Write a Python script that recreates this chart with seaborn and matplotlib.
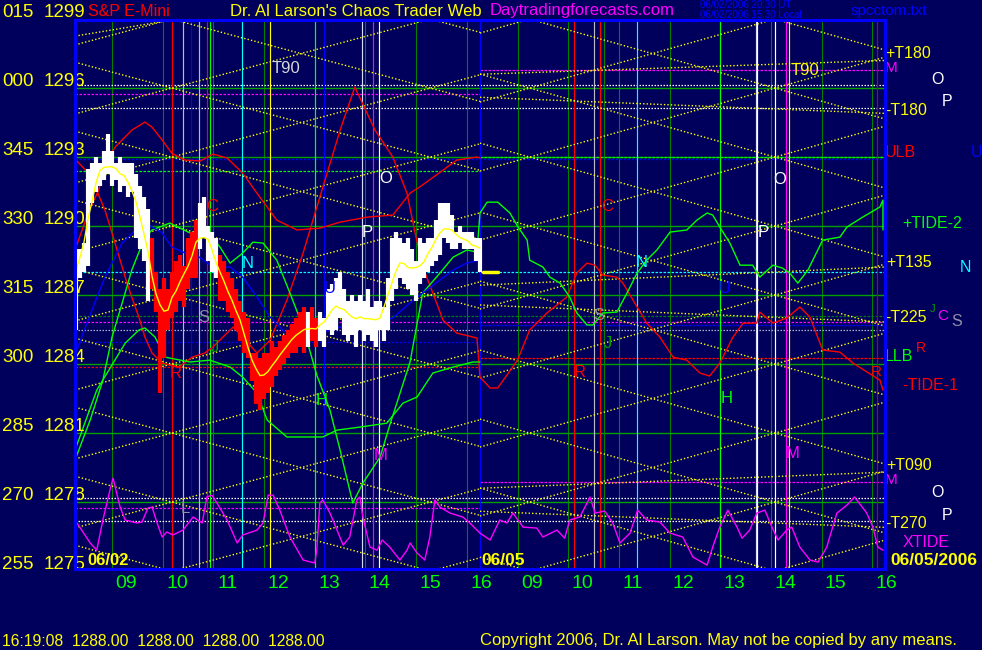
import numpy as np
import pandas as pd
import matplotlib
matplotlib.use("Agg")
import matplotlib.pyplot as plt
import matplotlib.transforms as mtransforms
import seaborn as sns

sns.set_theme(style="dark")
plt.rcParams['font.family'] = ['Liberation Sans', 'DejaVu Sans']

BG = '#00005c'

# ---------------- axis ----------------
x_min, x_max = 8.27, 24.25          # session hours (day 2 = clock + 8)
y_min, y_max = 1275.09, 1298.96
day_bounds = [(8.27, 16.26), (16.26, 24.25)]
hour_ticks = [9, 10, 11, 12, 13, 14, 15, 16, 17, 18, 19, 20, 21, 22, 23, 24]
hour_labels = ["09", "10", "11", "12", "13", "14", "15", "16",
               "09", "10", "11", "12", "13", "14", "15", "16"]
level_prices = [1299, 1296, 1293, 1290, 1287, 1284, 1281, 1278, 1275]
level_codes = ["015", "000", "345", "330", "315", "300", "285", "270", "255"]
green_levels = [1278, 1281, 1284, 1287, 1290, 1293, 1296]

# ---------------- price bars (day 1) ----------------
bar_t0, bar_dt = 8.29, 0.0789
bar_high = [1289.0, 1289.0, 1289.25, 1292.5, 1292.75, 1293.0, 1292.75, 1293.25, 1294.0, 1293.25,
            1292.75, 1293.0, 1292.75, 1292.75, 1292.75, 1292.25, 1291.75, 1291.25, 1290.75, 1289.5,
            1288.0, 1287.25, 1287.75, 1287.25, 1288.0, 1288.5, 1288.75, 1288.25, 1289.5, 1289.75,
            1290.25, 1291.0, 1291.25, 1290.0, 1289.75, 1289.5, 1288.75, 1288.5, 1288.0, 1287.75,
            1287.25, 1286.75, 1286.25, 1286.0, 1284.5, 1284.5, 1284.25, 1284.5, 1284.5, 1285.0,
            1284.75, 1285.0, 1285.25, 1285.5, 1285.75, 1286.0, 1286.25, 1286.5, 1286.25, 1286.5,
            1286.0, 1286.25, 1286.0, 1287.25, 1287.5, 1287.75, 1288.0, 1287.25, 1286.75, 1287.0,
            1286.75, 1287.0, 1286.75, 1287.25, 1286.5, 1286.75, 1286.75, 1286.5, 1287.75, 1289.5,
            1289.75, 1289.5, 1289.25, 1289.5, 1289.0, 1288.5, 1289.5, 1289.25, 1289.5, 1289.5,
            1290.25, 1291.0, 1291.0, 1291.0, 1290.5, 1289.75, 1290.0, 1289.75, 1289.75, 1289.75,
            1289.5, 1289.5]
bar_low = [1285.5, 1287.75, 1288.0, 1288.25, 1291.0, 1291.5, 1291.75, 1292.0, 1292.25, 1291.75,
           1292.0, 1291.5, 1291.75, 1291.25, 1291.5, 1289.5, 1289.0, 1288.5, 1286.75, 1287.25,
           1286.25, 1282.75, 1284.25, 1285.5, 1286.0, 1286.25, 1286.75, 1286.5, 1287.25, 1287.75,
           1287.75, 1289.0, 1289.5, 1288.5, 1288.0, 1287.75, 1286.75, 1286.75, 1286.25, 1286.0,
           1285.5, 1285.0, 1284.5, 1284.25, 1283.25, 1282.25, 1282.0, 1282.5, 1282.75, 1283.0,
           1283.5, 1283.75, 1284.0, 1284.25, 1284.5, 1284.5, 1284.75, 1284.5, 1284.75, 1285.0,
           1284.75, 1285.0, 1284.75, 1285.5, 1285.25, 1285.5, 1286.0, 1285.25, 1285.0, 1285.25,
           1284.75, 1285.5, 1285.0, 1285.25, 1285.0, 1284.75, 1285.5, 1285.0, 1285.5, 1286.75,
           1287.25, 1287.75, 1287.5, 1287.25, 1287.0, 1286.75, 1287.5, 1287.75, 1288.0, 1288.25,
           1288.5, 1288.75, 1289.5, 1289.25, 1289.0, 1289.0, 1289.25, 1289.0, 1289.0, 1289.0,
           1288.5, 1288.0]
bar_kind = ("WWWWWWWWWWWWWWWWWWWRRRRRRRRRRRRWWWWWRRRRRRRRRRRRRRRRRRRRRRWRRWW"
            "WWWWWWWWWWWWWWWWWWWWWWWWWWWWWWWWWWWWWWW")
last_price = 1288.0
last_price_t = (16.32, 16.61)

# ---------------- red curves ----------------
redA_t = [8.27, 8.55, 8.74, 8.86, 9.06, 9.39, 9.65, 9.79, 9.99, 10.18, 10.44, 10.74, 10.99, 11.27,
          11.58, 11.86, 12.25, 12.65, 13.10, 13.50, 14.03, 14.54, 14.88, 15.07, 15.53, 15.80,
          16.20, 16.26]
redA_p = [1288.96, 1290.70, 1291.57, 1292.74, 1293.43, 1294.17, 1294.52, 1294.30, 1293.74, 1293.17,
          1292.87, 1292.83, 1293.13, 1292.96, 1292.30, 1291.43, 1290.26, 1289.83, 1289.91, 1290.17,
          1290.39, 1290.48, 1291.43, 1291.70, 1292.43, 1292.87, 1293.0, 1292.96]
redB_t = [8.29, 8.57, 8.86, 9.06, 9.26, 9.39, 9.53, 9.65, 9.79, 9.99, 10.32, 10.58, 10.83, 10.99,
          11.39, 11.58, 11.86, 12.12, 12.45, 12.77, 13.16, 13.50, 13.79, 14.19, 14.54, 14.82, 14.98,
          15.13, 15.33, 15.53, 15.80, 16.20, 16.26, 16.46, 16.61, 17.0, 17.24, 17.58, 17.97, 18.17,
          18.37, 18.53, 18.68, 18.96, 19.08, 19.36, 19.55, 19.81, 20.07, 20.34, 20.60, 20.79, 20.99,
          21.25, 21.45, 21.72, 21.78, 22.04, 22.31, 22.57, 22.77, 23.02, 23.36, 23.62, 24.15, 24.21]
redB_p = [1292.87, 1292.22, 1290.70, 1289.26, 1287.78, 1286.91, 1286.04, 1285.17, 1284.48, 1284.04,
          1283.87, 1284.30, 1284.48, 1284.74, 1285.61, 1285.17, 1284.48, 1285.04, 1286.78, 1288.83,
          1291.70, 1294.17, 1296.04, 1294.17, 1293.0, 1291.43, 1289.70, 1288.22, 1287.09, 1285.91,
          1285.35, 1285.13, 1283.43, 1282.96, 1282.96, 1284.17, 1285.48, 1286.22, 1286.91, 1287.96,
          1288.39, 1288.30, 1287.87, 1287.78, 1287.52, 1286.48, 1285.78, 1285.17, 1284.30, 1284.17,
          1283.61, 1283.48, 1284.04, 1285.17, 1285.78, 1285.78, 1286.26, 1285.78, 1286.0, 1286.48,
          1286.04, 1284.61, 1284.52, 1284.04, 1283.30, 1282.87]

# ---------------- green curves ----------------
green1_t = [8.27, 8.57, 8.82, 9.0, 9.20, 9.39, 9.65, 9.79, 10.14, 10.54, 10.93, 11.13, 11.33, 11.58,
            11.78, 11.98, 12.25, 12.51, 12.77, 13.04, 13.30, 13.50, 13.75, 13.95, 14.29, 14.48,
            14.88, 15.13, 15.47, 15.73, 16.0, 16.20, 16.26, 16.40, 16.61, 16.85, 17.01, 17.19, 17.24,
            17.50, 17.64, 17.84, 18.03, 18.17, 18.37, 18.49, 18.68, 18.96, 19.16, 19.36, 19.55, 19.75,
            20.01, 20.34, 20.54, 20.74, 20.85, 20.99, 21.19, 21.39, 21.64, 21.78, 22.04, 22.23, 22.37,
            22.53, 22.73, 23.02, 23.36, 23.50, 23.81, 24.15, 24.21, 24.21]
green1_p = [1279.83, 1281.57, 1283.30, 1285.17, 1286.65, 1288.09, 1289.52, 1289.83, 1290.13, 1289.70,
            1289.61, 1289.09, 1288.39, 1288.83, 1289.30, 1289.26, 1288.52, 1287.09, 1285.61, 1283.52,
            1282.0, 1280.26, 1277.96, 1278.83, 1279.96, 1281.35, 1284.09, 1287.09, 1287.96, 1288.65,
            1288.96, 1288.87, 1290.57, 1291.04, 1291.04, 1290.57, 1289.96, 1289.39, 1288.52, 1288.22,
            1287.78, 1287.52, 1286.91, 1286.22, 1285.70, 1285.70, 1286.22, 1286.26, 1287.09, 1287.96,
            1288.52, 1288.96, 1289.74, 1289.83, 1290.26, 1290.57, 1290.48, 1289.96, 1289.26, 1288.30,
            1288.30, 1287.78, 1288.30, 1288.17, 1287.96, 1287.52, 1288.09, 1289.39, 1289.52, 1289.96,
            1290.39, 1290.83, 1291.13, 1289.83]
green2_t = [8.27, 8.70, 9.26, 9.53, 9.65, 9.85, 10.05, 10.54, 10.93, 11.33, 11.58, 11.86, 12.06,
            12.45, 13.16, 13.44, 13.89, 14.42, 14.74, 15.02, 15.33, 15.73, 16.12, 16.26]
green2_p = [1280.26, 1282.87, 1284.91, 1285.48, 1285.57, 1285.17, 1284.30, 1284.09, 1284.17, 1283.87,
            1283.43, 1282.74, 1281.57, 1280.83, 1280.83, 1281.13, 1281.26, 1281.43, 1282.30, 1282.57,
            1283.61, 1283.87, 1284.09, 1284.09]

# ---------------- blue curve ----------------
blue_t = [8.27, 8.55, 8.86, 9.20, 9.53, 9.73, 9.99, 10.18, 10.44, 10.72, 10.99, 11.33, 11.58, 11.86,
          12.12, 12.37, 12.65, 13.10, 13.50, 13.75, 14.15, 14.54, 14.94, 15.21, 15.47, 15.73, 16.0,
          16.26]
blue_p = [1284.39, 1286.04, 1287.78, 1289.26, 1289.96, 1290.04, 1289.70, 1289.09, 1288.83, 1288.65,
          1288.22, 1288.22, 1287.78, 1286.91, 1286.04, 1285.48, 1285.04, 1285.35, 1285.61, 1285.78,
          1285.78, 1286.0, 1286.78, 1287.22, 1287.65, 1288.09, 1288.39, 1288.52]

# ---------------- XTIDE (magenta) ----------------
xtide_t = [8.27, 8.57, 8.70, 8.82, 8.96, 9.02, 9.16, 9.26, 9.49, 9.59, 9.71, 9.79, 9.89, 9.99, 10.08,
           10.20, 10.40, 10.60, 10.78, 10.87, 10.97, 11.07, 11.27, 11.47, 11.58, 11.86, 11.98, 12.08,
           12.18, 12.31, 12.51, 12.77, 13.0, 13.04, 13.10, 13.16, 13.30, 13.44, 13.56, 13.69, 13.83,
           13.89, 13.95, 14.09, 14.23, 14.33, 14.48, 14.68, 14.82, 14.88, 15.02, 15.17, 15.27, 15.37,
           15.47, 15.67, 15.92, 16.06, 16.26, 16.46, 16.65, 16.79, 16.91, 17.11, 17.38, 17.50, 17.78,
           17.93, 18.03, 18.23, 18.43, 18.53, 18.72, 18.88, 19.02, 19.22, 19.37, 19.55, 19.81, 20.01,
           20.26, 20.46, 20.74, 20.85, 20.99, 21.15, 21.33, 21.43, 21.58, 21.72, 21.88, 22.02, 22.14,
           22.31, 22.41, 22.57, 22.77, 22.93, 23.10, 23.30, 23.50, 23.65, 23.89, 24.01, 24.11, 24.21]
xtide_p = [1277.22, 1276.22, 1275.91, 1277.22, 1278.52, 1279.04, 1277.78, 1277.22, 1277.09, 1277.13,
           1277.74, 1277.78, 1277.09, 1276.48, 1276.70, 1276.57, 1276.78, 1277.35, 1277.09, 1278.22,
           1278.30, 1277.96, 1277.22, 1276.22, 1276.57, 1276.78, 1277.09, 1278.30, 1278.30, 1277.65,
           1276.48, 1275.48, 1275.35, 1275.91, 1277.96, 1278.09, 1277.52, 1276.78, 1276.13, 1276.48,
           1278.09, 1278.22, 1277.35, 1276.04, 1275.91, 1276.35, 1276.04, 1275.48, 1275.91, 1276.22,
           1275.78, 1275.48, 1276.48, 1278.09, 1277.78, 1277.52, 1277.35, 1277.09, 1276.65, 1276.35,
           1277.22, 1277.09, 1277.52, 1276.91, 1276.87, 1276.48, 1276.78, 1276.43, 1277.22, 1277.35,
           1278.22, 1277.52, 1277.61, 1277.09, 1276.22, 1276.65, 1277.65, 1277.22, 1277.13, 1276.65,
           1276.48, 1275.61, 1275.26, 1276.04, 1276.91, 1277.65, 1276.91, 1276.43, 1276.78, 1277.52,
           1277.65, 1276.91, 1276.35, 1276.78, 1276.91, 1276.04, 1275.48, 1275.39, 1276.04, 1277.52,
           1277.87, 1278.22, 1277.52, 1276.91, 1276.04, 1275.91]

# ---------------- horizontal reference lines ----------------
# (level, colour, day: 0 = day 1 only, 1 = day 2 only, 2 = both)
href_level = [1296.13, 1295.13, 1278.17, 1277.17, 1285.50,
              1295.74, 1296.78, 1277.74, 1278.87, 1285.85,
              1292.91, 1284.96, 1285.70,
              1292.39, 1293.00, 1286.09, 1288.00, 1283.87, 1284.26]
href_color = ['#ffffff', '#ffffff', '#ffffff', '#ffffff', '#b0b0c8',
              '#ff00ff', '#ff00ff', '#ff00ff', '#ff00ff', '#ff00ff',
              '#0000ff', '#0000ff', '#0000ff',
              '#00ff00', '#00ff00', '#008000', '#00ffff', '#ff0000', '#ff0000']
href_day = [2, 2, 2, 2, 2,
            0, 1, 0, 1, 2,
            2, 0, 1,
            0, 1, 2, 2, 0, 1]

# ---------------- vertical event lines ----------------
vline_t = [10.18, 10.87, 18.11, 18.63, 24.09,
           10.40, 10.72, 18.51,
           10.56, 13.18, 16.26,
           10.93, 13.0, 21.0,
           11.56, 19.36,
           12.12, 22.35,
           13.93, 21.70,
           14.27, 21.72, 22.08,
           14.15, 22.29,
           18.70]
vline_color = ['#ff0000', '#ff0000', '#ff0000', '#ff0000', '#c00000',
               '#b8b8c8', '#b8b8c8', '#b8b8c8',
               '#0000ff', '#0000ff', '#0000ff',
               '#00ff00', '#00ff00', '#00ff00',
               '#00ffff', '#00ffff',
               '#ffff00', '#ffff00',
               '#d8d8ff', '#d8d8ff',
               '#ffffff', '#ffffff', '#ffffff',
               '#ff00ff', '#ff00ff',
               '#008000']

# ---------------- yellow harmonic lattice ----------------
lattice_node_t = [10.18, 17.24]          # crossing time on whole-level lines, per day
lattice_half_period = [2.55, 2.42]       # hours between crossings
lattice_levels = [1266, 1269, 1272, 1275, 1278, 1281, 1284, 1287, 1290, 1293, 1296, 1299,
                  1302, 1305, 1308]
extra_t0 = [8.27, 16.26, 16.26, 16.26, 16.26, 16.26, 16.26]
extra_p0 = [1298.26, 1296.60, 1295.60, 1287.43, 1286.57, 1278.60, 1277.60]
extra_t1 = [10.18, 24.25, 24.25, 24.25, 24.25, 24.25, 24.25]
extra_p1 = [1298.96, 1297.20, 1294.90, 1288.22, 1285.83, 1279.30, 1276.90]

# ---------------- letters ----------------
mark_text = ["T90", "T90", "O", "O", "P", "P", "C", "C", "N", "N", "S", "S", "J", "J",
             "R", "R", "H", "H", "U", "U", "M", "M", "L"]
mark_t = [12.43, 22.67, 14.40, 22.18, 14.03, 21.84, 10.97, 18.76, 11.68, 19.45, 10.81, 18.61,
          11.03, 18.78, 10.26, 18.23, 13.14, 21.13, 13.30, 21.09, 14.29, 22.43, 10.44]
mark_p = [1296.83, 1296.78, 1292.09, 1292.04, 1289.70, 1289.70, 1290.83, 1290.83, 1288.39,
          1288.43, 1286.04, 1286.13, 1284.74, 1284.91, 1283.61, 1283.65, 1282.43, 1282.52,
          1287.30, 1287.30, 1280.04, 1280.13, 1277.74]
mark_color = ['#d8d8d8', '#ffff00', '#ffffff', '#ffffff', '#ffffff', '#ffffff', '#ff0000',
              '#ff0000', '#00ffff', '#00ffff', '#9090a8', '#9090a8', '#00a000', '#00a000',
              '#ff0000', '#ff0000', '#00ff00', '#00ff00', '#0000ff', '#0000ff', '#ff00ff',
              '#ff00ff', '#9090a8']

right_text = ["+T180", "M", "O", "P", "-T180", "ULB", "U", "+TIDE-2", "+T135", "N", "-T225",
              "J", "C", "S", "LLB", "R", "-TIDE-1", "R", "+T090", "M", "O", "P", "-T270", "XTIDE"]
right_t = [24.25, 24.24, 25.29, 25.47, 24.25, 24.25, 26.05, 24.60, 24.27, 25.84, 24.25,
           25.13, 25.29, 25.67, 24.25, 24.86, 24.60, 24.08, 24.27, 24.24, 25.29, 25.47, 24.25, 24.60]
right_p = [1297.52, 1296.87, 1296.39, 1295.43, 1295.04, 1293.22, 1293.22, 1290.13, 1288.43,
           1288.22, 1286.04, 1286.40, 1286.10, 1285.83, 1284.35, 1284.70, 1283.09, 1283.65,
           1279.58, 1278.96, 1278.43, 1277.43, 1277.09, 1276.26]
right_color = ['#ffff00', '#ff00ff', '#ffffff', '#ffffff', '#ffff00', '#ff0000', '#0000ff',
               '#00ff00', '#ffff00', '#00ffff', '#ffff00', '#00a000', '#ff00ff', '#9090a8',
               '#00ff00', '#ff0000', '#ff0000', '#ff0000', '#ffff00', '#ff00ff', '#ffffff',
               '#ffffff', '#ffff00', '#ff00ff']
right_size = [11.5, 11, 11.5, 11.5, 11.5, 11.5, 11.5, 11.5, 11.5, 11.5, 11.5,
              8, 11, 11.5, 11.5, 10, 11.5, 11, 11.5, 11, 11.5, 11.5, 11.5, 11.5]
right_align = ['left', 'left', 'center', 'center', 'left', 'left', 'center', 'left', 'left',
               'center', 'left', 'left', 'left', 'center', 'left', 'left', 'left', 'center',
               'left', 'left', 'center', 'center', 'left', 'left']

# =====================================================================
fig = plt.figure(figsize=(9.82, 6.5), dpi=100, facecolor=BG)
ax = fig.add_axes([75 / 982, 81 / 650, 810 / 982, 549 / 650])
ax.set_facecolor(BG)
ax.set_xlim(x_min, x_max)
ax.set_ylim(y_min, y_max)
ax.set_xticks([])
ax.set_yticks([])
ax.grid(False)
for sp in ax.spines.values():
    sp.set_color('#0000ff')
    sp.set_linewidth(2.2)
    sp.set_zorder(20)

# hour lines
for h in hour_ticks:
    ax.axvline(h, color='#008000', lw=0.8, zorder=1)
# green price levels
for lv in green_levels:
    ax.axhline(lv, color='#00a000', lw=1.0, zorder=1)
# horizontal reference lines
for lv, c, d in zip(href_level, href_color, href_day):
    if d == 2:
        a, b = x_min, x_max
    else:
        a, b = day_bounds[d]
    ls = (0, (1.2, 1.2)) if c in ('#ffffff', '#b0b0c8') else (0, (2.0, 1.2))
    ax.plot([a, b], [lv, lv], color=c, lw=0.9, ls=ls, zorder=2)
# vertical event lines
for t, c in zip(vline_t, vline_color):
    ax.axvline(t, color=c, lw=0.85, zorder=2)

# yellow lattice
for d in range(2):
    a, b = day_bounds[d]
    slope = 1.5 / lattice_half_period[d]
    tt = np.array([a, b])
    for lv in lattice_levels:
        for sgn in (1, -1):
            pp = lv + sgn * slope * (tt - lattice_node_t[d])
            ax.plot(tt, pp, color='#ffff00', lw=1.0, ls=(0, (1.0, 1.5)), zorder=3)
for t0, p0, t1, p1 in zip(extra_t0, extra_p0, extra_t1, extra_p1):
    ax.plot([t0, t1], [p0, p1], color='#ffff00', lw=1.0, ls=(0, (1.0, 1.5)), zorder=3)

# curves
kw = dict(ax=ax, sort=False, estimator=None, zorder=4, lw=1.0)
sns.lineplot(x=redA_t, y=redA_p, color='#ff0000', **kw)
sns.lineplot(x=redB_t, y=redB_p, color='#ff0000', **kw)
sns.lineplot(x=green1_t, y=green1_p, color='#00ff00', **kw)
sns.lineplot(x=green2_t, y=green2_p, color='#00ff00', **kw)
sns.lineplot(x=blue_t, y=blue_p, color='#0000ff', **kw)
sns.lineplot(x=xtide_t, y=xtide_p, color='#ff00ff', **kw)

# price bars
bars = pd.DataFrame({"high": bar_high, "low": bar_low, "kind": list(bar_kind)})
bars["t"] = bar_t0 + bar_dt * np.arange(len(bars))
bars["mid"] = (bars["high"] + bars["low"]) / 2
bar_colors = np.where(bars["kind"] == "W", '#ffffff', '#ff0000')
ax.vlines(bars["t"], bars["low"], bars["high"], colors=bar_colors, lw=3.0, zorder=5)
ma = bars["mid"].rolling(5, min_periods=1, center=True).mean()
sns.lineplot(x=bars["t"], y=ma, color='#ffff00', lw=1.0, ax=ax, sort=False, estimator=None, zorder=6)
ax.plot(list(last_price_t), [last_price, last_price], color='#ffff00', lw=2.5, zorder=6)

# letters inside plot
for s, t, p, c in zip(mark_text, mark_t, mark_p, mark_color):
    ax.text(t, p, s, color=c, fontsize=12, ha='center', va='center', zorder=7)

# right-side labels
for s, t, p, c, fs, al in zip(right_text, right_t, right_p, right_color, right_size, right_align):
    ax.text(t, p, s, color=c, fontsize=fs, ha=al, va='center', clip_on=False, zorder=8)

# left price labels
tr_left = mtransforms.blended_transform_factory(fig.transFigure, ax.transData)
for code, p in zip(level_codes, level_prices):
    ax.text(2 / 982, p + 0.3, code, color='#ffff00', fontsize=13.5, ha='left', va='center',
            transform=tr_left, clip_on=False, zorder=9)
    ax.text(44 / 982, p + 0.3, str(p), color='#ffff00', fontsize=13.5, ha='left', va='center',
            transform=tr_left, clip_on=False, zorder=9)

# hour labels
tr_bottom = mtransforms.blended_transform_factory(ax.transData, fig.transFigure)
for h, lab in zip(hour_ticks, hour_labels):
    ax.text(h + 0.28, 1 - 583 / 650, lab, color='#00ff00', fontsize=14, ha='center', va='center',
            transform=tr_bottom, clip_on=False)

# dates in plot
ax.text(8.52, 1275.45, "06/02", color='#ffff00', fontsize=12, fontweight='bold', ha='left',
        va='center', zorder=9)
ax.text(16.28, 1275.45, "06/05", color='#ffff00', fontsize=12.5, fontweight='bold', ha='left',
        va='center', zorder=9)
ax.text(24.35, 1275.45, "06/05/2006", color='#ffff00', fontsize=12.5, fontweight='bold', ha='left',
        va='center', clip_on=False, zorder=9)

# header and footer
fig.text(88 / 982, 1 - 11 / 650, "S&P E-Mini", color='#ff0000', fontsize=11.5, ha='left', va='center')
fig.text(230 / 982, 1 - 11 / 650, "Dr. Al Larson's Chaos Trader Web", color='#ffff00', fontsize=12,
         ha='left', va='center')
fig.text(490 / 982, 1 - 11 / 650, "Daytradingforecasts.com", color='#ff00ff', fontsize=12,
         ha='left', va='center')
fig.text(700 / 982, 1 - 5 / 650, "06/02/2006 20:30 UT", color='#0000ff', fontsize=7,
         ha='left', va='center')
fig.text(700 / 982, 1 - 15 / 650, "06/02/2006 15:30 Local", color='#0000ff', fontsize=7,
         ha='left', va='center')
fig.text(851 / 982, 1 - 11 / 650, "spcctom.txt", color='#0000ff', fontsize=11, ha='left', va='center')
fig.text(2 / 982, 1 - 641 / 650, "16:19:08  1288.00  1288.00  1288.00  1288.00", color='#ffff00',
         fontsize=11.3, ha='left', va='center')
fig.text(480 / 982, 1 - 641 / 650, "Copyright 2006, Dr. Al Larson. May not be copied by any means.",
         color='#ffff00', fontsize=12, ha='left', va='center')

fig.savefig("out.png", dpi=100, facecolor=BG)
